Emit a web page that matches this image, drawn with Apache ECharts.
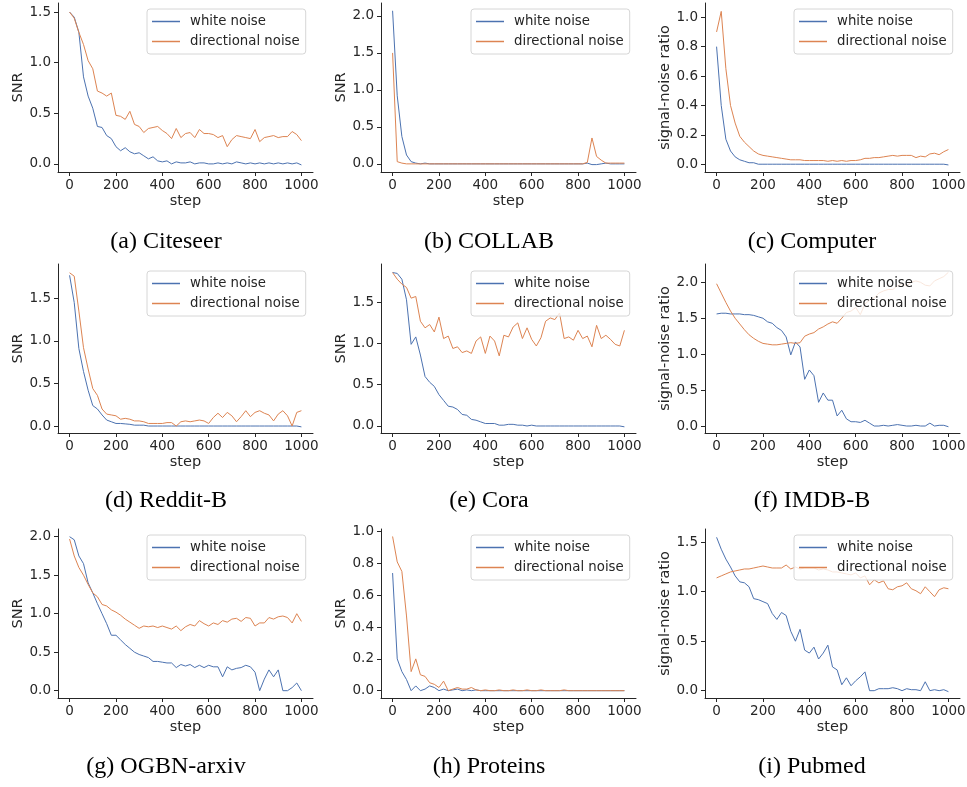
<!DOCTYPE html>
<html>
<head>
<meta charset="utf-8">
<script src="https://cdn.jsdelivr.net/npm/echarts@6/dist/echarts.min.js"></script>
<style>
  html, body { margin: 0; padding: 0; background: #fff; }
  #chart { width: 967px; height: 787px; }
</style>
</head>
<body>
<div id="chart"></div>
<script>
const steps = [0, 20, 40, 60, 80, 100, 120, 140, 160, 180, 200, 220, 240, 260, 280, 300, 320, 340, 360, 380,
  400, 420, 440, 460, 480, 500, 520, 540, 560, 580, 600, 620, 640, 660, 680, 700, 720, 740, 760, 780,
  800, 820, 840, 860, 880, 900, 920, 940, 960, 980, 1000];
const stepTicks = [0, 200, 400, 600, 800, 1000];
const seriesNames = ['white noise', 'directional noise'];

const captions = ['(a) Citeseer', '(b) COLLAB', '(c) Computer', '(d) Reddit-B', '(e) Cora', '(f) IMDB-B',
  '(g) OGBN-arxiv', '(h) Proteins', '(i) Pubmed'];
const yNames = ['SNR', 'SNR', 'signal-noise ratio', 'SNR', 'SNR', 'signal-noise ratio',
  'SNR', 'SNR', 'signal-noise ratio'];
const yTicks = [
  [0, 0.5, 1, 1.5],
  [0, 0.5, 1, 1.5, 2],
  [0, 0.2, 0.4, 0.6, 0.8, 1.0],
  [0, 0.5, 1, 1.5],
  [0, 0.5, 1, 1.5],
  [0, 0.5, 1, 1.5, 2],
  [0, 0.5, 1, 1.5, 2],
  [0, 0.2, 0.4, 0.6, 0.8, 1.0],
  [0, 0.5, 1, 1.5]
];

// (a) Citeseer
const citeseerWhite = [1.50, 1.45, 1.30, 0.86, 0.67, 0.55, 0.37, 0.36, 0.28, 0.25,
  0.17, 0.13, 0.16, 0.12, 0.10, 0.11, 0.08, 0.05, 0.07, 0.03,
  0.02, 0.03, 0.00, 0.02, 0.01, 0.01, 0.02, 0.00, 0.01, 0.01,
  0.00, 0.00, 0.01, 0.00, 0.01, 0.00, 0.02, 0.01, 0.00, 0.01,
  0.00, 0.01, 0.00, 0.01, 0.00, 0.01, 0.00, 0.01, 0.00, 0.01, -0.01];
const citeseerDir = [1.50, 1.44, 1.30, 1.18, 1.02, 0.94, 0.72, 0.70, 0.67, 0.70,
  0.48, 0.47, 0.44, 0.52, 0.39, 0.37, 0.31, 0.35, 0.36, 0.37,
  0.33, 0.30, 0.25, 0.35, 0.26, 0.30, 0.31, 0.26, 0.34, 0.30,
  0.30, 0.29, 0.26, 0.28, 0.17, 0.24, 0.28, 0.27, 0.26, 0.25,
  0.34, 0.22, 0.26, 0.27, 0.28, 0.26, 0.27, 0.27, 0.32, 0.29, 0.23];
// (b) COLLAB
const collabWhite = [2.07, 0.92, 0.37, 0.12, 0.03, 0.01, 0.00, 0.01, 0.00, 0.00,
  0.00, 0.00, 0.00, 0.00, 0.00, 0.00, 0.00, 0.00, 0.00, 0.00,
  0.00, 0.00, 0.00, 0.00, 0.00, 0.00, 0.00, 0.00, 0.00, 0.00,
  0.00, 0.00, 0.00, 0.00, 0.00, 0.00, 0.00, 0.00, 0.00, 0.00,
  0.00, 0.00, 0.01, -0.01, -0.01, 0.00, 0.01, 0.00, 0.00, 0.00, 0.00];
const collabDir = [1.50, 0.03, 0.01, 0.00, 0.00, 0.00, 0.00, 0.00, 0.00, 0.00,
  0.00, 0.00, 0.00, 0.00, 0.00, 0.00, 0.00, 0.00, 0.00, 0.00,
  0.00, 0.00, 0.00, 0.00, 0.00, 0.00, 0.00, 0.00, 0.00, 0.00,
  0.00, 0.00, 0.00, 0.00, 0.00, 0.00, 0.00, 0.00, 0.00, 0.00,
  0.00, 0.00, 0.02, 0.35, 0.10, 0.05, 0.01, 0.01, 0.01, 0.01, 0.01];
// (c) Computer
const computerWhite = [0.80, 0.40, 0.17, 0.09, 0.05, 0.03, 0.02, 0.01, 0.01, 0.00,
  0.00, 0.00, 0.00, 0.00, 0.00, 0.00, 0.00, 0.00, 0.00, 0.00,
  0.00, 0.00, 0.00, 0.00, 0.00, 0.00, 0.00, 0.00, 0.00, 0.00,
  0.00, 0.00, 0.00, 0.00, 0.00, 0.00, 0.00, 0.00, 0.00, 0.00,
  0.00, 0.00, 0.00, 0.00, 0.00, 0.00, 0.00, 0.00, 0.00, 0.00, -0.005];
const computerDir = [0.90, 1.04, 0.65, 0.40, 0.28, 0.19, 0.15, 0.12, 0.09, 0.07,
  0.06, 0.055, 0.05, 0.045, 0.04, 0.035, 0.03, 0.03, 0.03, 0.025,
  0.025, 0.025, 0.025, 0.025, 0.02, 0.025, 0.02, 0.025, 0.02, 0.025,
  0.025, 0.03, 0.04, 0.04, 0.045, 0.045, 0.05, 0.055, 0.06, 0.055,
  0.06, 0.06, 0.06, 0.045, 0.055, 0.05, 0.07, 0.075, 0.065, 0.085, 0.10];
// (d) Reddit-B
const redditWhite = [1.77, 1.45, 0.91, 0.64, 0.42, 0.24, 0.20, 0.13, 0.07, 0.05,
  0.03, 0.03, 0.025, 0.02, 0.01, 0.01, 0.01, 0.00, 0.00, 0.00,
  0.00, 0.00, 0.00, 0.00, 0.00, 0.00, 0.00, 0.00, 0.00, 0.00,
  0.00, 0.00, 0.00, 0.00, 0.00, 0.00, 0.00, 0.00, 0.00, 0.00,
  0.00, 0.00, 0.00, 0.00, 0.00, 0.00, 0.00, 0.00, 0.00, 0.00, -0.01];
const redditDir = [1.80, 1.76, 1.35, 0.92, 0.67, 0.44, 0.36, 0.20, 0.14, 0.13,
  0.12, 0.08, 0.09, 0.08, 0.06, 0.06, 0.05, 0.03, 0.03, 0.03,
  0.03, 0.04, 0.04, 0.00, 0.05, 0.06, 0.05, 0.06, 0.07, 0.06,
  0.03, 0.10, 0.15, 0.10, 0.16, 0.12, 0.05, 0.11, 0.18, 0.11,
  0.16, 0.18, 0.15, 0.13, 0.06, 0.14, 0.18, 0.12, 0.00, 0.16, 0.18];
// (e) Cora
const coraWhite = [1.86, 1.85, 1.78, 1.53, 0.99, 1.08, 0.86, 0.60, 0.53, 0.48,
  0.38, 0.31, 0.24, 0.23, 0.20, 0.14, 0.13, 0.08, 0.07, 0.05,
  0.03, 0.03, 0.03, 0.01, 0.01, 0.02, 0.02, 0.01, 0.01, 0.00,
  0.01, 0.00, 0.00, 0.00, 0.00, 0.00, 0.00, 0.00, 0.00, 0.00,
  0.00, 0.00, 0.00, 0.00, 0.00, 0.00, 0.00, 0.00, 0.00, 0.00, -0.01];
const coraDir = [1.86, 1.78, 1.72, 1.68, 1.55, 1.57, 1.27, 1.19, 1.23, 1.14,
  1.32, 1.06, 1.09, 0.94, 0.96, 0.89, 0.91, 0.88, 1.03, 1.08,
  0.88, 1.09, 1.03, 0.85, 1.10, 1.08, 1.20, 1.25, 1.06, 1.19,
  1.05, 0.97, 1.07, 1.27, 1.31, 1.29, 1.37, 1.06, 1.08, 1.04,
  1.16, 1.06, 1.09, 0.96, 1.22, 1.06, 1.10, 1.05, 0.99, 0.97, 1.16];
// (f) IMDB-B
const imdbWhite = [1.56, 1.57, 1.57, 1.56, 1.56, 1.56, 1.55, 1.55, 1.54, 1.52,
  1.50, 1.45, 1.43, 1.37, 1.33, 1.24, 0.99, 1.17, 1.10, 0.65,
  0.78, 0.70, 0.33, 0.46, 0.36, 0.36, 0.14, 0.22, 0.10, 0.06,
  0.06, 0.05, 0.08, 0.04, 0.00, 0.00, 0.01, 0.00, 0.01, 0.02,
  0.01, 0.00, 0.00, 0.01, 0.00, 0.00, 0.04, 0.00, 0.01, 0.01, -0.01];
const imdbDir = [1.98, 1.85, 1.72, 1.60, 1.50, 1.42, 1.34, 1.27, 1.22, 1.18,
  1.15, 1.14, 1.13, 1.13, 1.14, 1.15, 1.16, 1.15, 1.16, 1.25,
  1.28, 1.30, 1.35, 1.38, 1.42, 1.45, 1.43, 1.50, 1.58, 1.60,
  1.65, 1.55, 1.70, 1.75, 1.78, 1.85, 1.88, 1.90, 1.90, 1.95,
  1.98, 1.95, 2.00, 2.02, 2.00, 1.96, 1.95, 2.02, 2.05, 2.08, 2.14];
// (g) OGBN-arxiv
const arxivWhite = [2.00, 1.96, 1.75, 1.65, 1.40, 1.27, 1.13, 1.00, 0.87, 0.72,
  0.72, 0.66, 0.60, 0.55, 0.50, 0.47, 0.45, 0.43, 0.38, 0.38,
  0.37, 0.36, 0.36, 0.30, 0.34, 0.32, 0.34, 0.30, 0.33, 0.30,
  0.33, 0.31, 0.31, 0.18, 0.31, 0.27, 0.29, 0.30, 0.33, 0.31,
  0.24, 0.00, 0.15, 0.27, 0.18, 0.27, 0.00, 0.00, 0.04, 0.10, 0.00];
const arxivDir = [1.97, 1.75, 1.60, 1.50, 1.38, 1.27, 1.22, 1.12, 1.10, 1.05,
  1.02, 0.98, 0.93, 0.89, 0.85, 0.81, 0.84, 0.83, 0.84, 0.82,
  0.84, 0.82, 0.80, 0.84, 0.78, 0.83, 0.86, 0.84, 0.91, 0.87,
  0.84, 0.88, 0.86, 0.91, 0.89, 0.93, 0.94, 0.90, 0.95, 0.94,
  0.84, 0.88, 0.88, 0.95, 0.93, 0.96, 0.97, 0.95, 0.88, 1.00, 0.90];
// (h) Proteins
const proteinsWhite = [0.74, 0.20, 0.12, 0.07, 0.00, 0.03, 0.00, 0.01, 0.03, 0.02,
  0.00, 0.01, 0.00, 0.005, 0.01, 0.00, 0.005, 0.00, 0.005, 0.00,
  0.00, 0.00, 0.00, 0.00, 0.00, 0.00, 0.00, 0.00, 0.00, 0.00,
  0.00, 0.00, 0.00, 0.00, 0.00, 0.00, 0.00, 0.00, 0.00, 0.00,
  0.00, 0.00, 0.00, 0.00, 0.00, 0.00, 0.00, 0.00, 0.00, 0.00, 0.00];
const proteinsDir = [0.97, 0.81, 0.75, 0.47, 0.12, 0.20, 0.10, 0.09, 0.05, 0.04,
  0.02, 0.06, 0.00, 0.01, 0.02, 0.01, 0.01, 0.02, 0.005, 0.00,
  0.005, 0.00, 0.00, 0.005, 0.00, 0.00, 0.005, 0.00, 0.00, 0.005,
  0.00, 0.00, 0.005, 0.00, 0.00, 0.00, 0.00, 0.005, 0.00, 0.00,
  0.00, 0.00, 0.00, 0.00, 0.00, 0.00, 0.00, 0.00, 0.00, 0.00, 0.00];
// (i) Pubmed
const pubmedWhite = [1.55, 1.43, 1.33, 1.25, 1.16, 1.10, 1.09, 1.05, 0.93, 0.92,
  0.90, 0.88, 0.78, 0.72, 0.79, 0.76, 0.60, 0.50, 0.62, 0.41,
  0.38, 0.44, 0.32, 0.38, 0.46, 0.24, 0.21, 0.06, 0.13, 0.05,
  0.10, 0.14, 0.19, 0.00, 0.00, 0.02, 0.02, 0.02, 0.03, 0.02,
  0.00, 0.02, 0.01, 0.01, 0.00, 0.09, 0.00, 0.01, 0.00, 0.01, -0.01];
const pubmedDir = [1.14, 1.16, 1.18, 1.20, 1.21, 1.22, 1.23, 1.23, 1.24, 1.25,
  1.26, 1.25, 1.24, 1.24, 1.24, 1.27, 1.23, 1.25, 1.23, 1.24,
  1.24, 1.24, 1.22, 1.23, 1.22, 1.20, 1.20, 1.19, 1.18, 1.17,
  1.19, 1.14, 1.16, 1.07, 1.12, 1.09, 1.11, 1.03, 1.02, 1.05,
  1.06, 1.09, 1.03, 1.01, 0.98, 1.05, 1.00, 0.95, 1.02, 1.04, 1.03];

const whiteSets = [citeseerWhite, collabWhite, computerWhite, redditWhite, coraWhite, imdbWhite,
  arxivWhite, proteinsWhite, pubmedWhite];
const dirSets = [citeseerDir, collabDir, computerDir, redditDir, coraDir, imdbDir,
  arxivDir, proteinsDir, pubmedDir];

// layout (pixels) and axis extents, matplotlib-style 5% margins
const colLeft = [58, 381, 705];
const rowTop = [3, 264, 529];
const plotW = 255, plotH = 169;
const legendLeft = [147, 471, 794];
const legendTop = [9, 271, 535];
const captionX = [166, 489, 812];
const captionY = [242, 501, 767];
const yRange = [
  [-0.08, 1.59], [-0.11, 2.175], [-0.053, 1.097],
  [-0.082, 1.903], [-0.085, 1.964], [-0.097, 2.255],
  [-0.095, 2.1], [-0.046, 1.017], [-0.074, 1.634]
];

const colors = ['#4c72b0', '#dd8452'];
const ink = '#262626';
const sans = 'DejaVu Sans';

const grids = [], xAxes = [], yAxes = [], series = [], legends = [], texts = [];
for (let i = 0; i < 9; i++) {
  const c = i % 3, r = Math.floor(i / 3);
  grids.push({ left: colLeft[c], top: rowTop[r], width: plotW, height: plotH,
    containLabel: false, outerBoundsMode: 'none' });
  xAxes.push({
    gridIndex: i, type: 'value', min: -50, max: 1050,
    name: 'step', nameLocation: 'middle', nameGap: 22,
    nameTextStyle: { fontFamily: sans, fontSize: 14.5, color: ink },
    axisLine: { show: true, onZero: false, lineStyle: { color: ink, width: 1 } },
    axisTick: { show: true, length: 4, lineStyle: { color: ink }, customValues: stepTicks },
    axisLabel: { fontFamily: sans, fontSize: 13.5, color: ink, margin: 6,
      customValues: stepTicks, formatter: v => String(v) },
    splitLine: { show: false }
  });
  yAxes.push({
    gridIndex: i, type: 'value', min: yRange[i][0], max: yRange[i][1],
    name: yNames[i], nameLocation: 'middle', nameRotate: 90,
    nameGap: yNames[i] === 'SNR' ? 32 : 30,
    nameTextStyle: { fontFamily: sans, fontSize: 14.5, color: ink },
    axisLine: { show: true, onZero: false, lineStyle: { color: ink, width: 1 } },
    axisTick: { show: true, length: 4, lineStyle: { color: ink }, customValues: yTicks[i] },
    axisLabel: { fontFamily: sans, fontSize: 13.5, color: ink, margin: 7,
      customValues: yTicks[i], formatter: v => v.toFixed(1) },
    splitLine: { show: false }
  });
  [whiteSets[i], dirSets[i]].forEach((vals, k) => {
    series.push({
      name: seriesNames[k], type: 'line', xAxisIndex: i, yAxisIndex: i,
      symbol: 'none', showSymbol: false, color: colors[k],
      lineStyle: { width: 1, color: colors[k] },
      data: steps.map((s, j) => [s, vals[j]])
    });
  });
  legends.push({
    left: legendLeft[c], top: legendTop[r], orient: 'vertical', selectedMode: false,
    icon: 'rect', itemWidth: 28, itemHeight: 1.5, itemGap: 5,
    padding: [5, 6, 5, 5], borderColor: '#d6d6d6', borderWidth: 1, borderRadius: 3,
    backgroundColor: 'rgba(255,255,255,0.8)',
    textStyle: { fontFamily: sans, fontSize: 13.3, color: ink, lineHeight: 15, padding: [0, 0, 0, 5] },
    data: seriesNames
  });
  texts.push({
    type: 'text', x: captionX[c], y: captionY[r],
    style: { text: captions[i], font: '24px "Liberation Serif"', fill: '#000',
      textAlign: 'center', textVerticalAlign: 'middle' }
  });
}

const chart = echarts.init(document.getElementById('chart'), null, { renderer: 'canvas' });
chart.setOption({
  animation: false,
  backgroundColor: '#fff',
  grid: grids,
  xAxis: xAxes,
  yAxis: yAxes,
  legend: legends,
  series: series,
  graphic: texts
});
</script>
</body>
</html>
